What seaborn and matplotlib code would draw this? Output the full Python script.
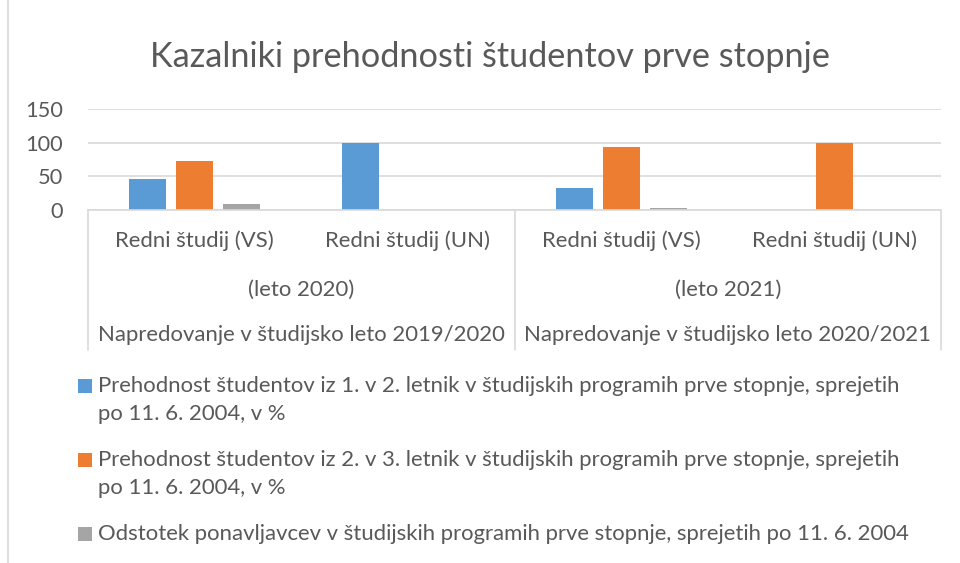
import pandas as pd
import matplotlib
matplotlib.use("Agg")
import matplotlib.pyplot as plt
import seaborn as sns
from matplotlib.patches import Rectangle
from matplotlib.lines import Line2D
from matplotlib.transforms import blended_transform_factory

# podatki
studij = ["Redni študij (VS)", "Redni študij (UN)", "Redni študij (VS)", "Redni študij (UN)"]
leto = ["(leto 2020)", "(leto 2021)"]
napredovanje = ["Napredovanje v študijsko leto 2019/2020",
                "Napredovanje v študijsko leto 2020/2021"]
serije = [
    "Prehodnost študentov iz 1. v 2. letnik v študijskih programih prve stopnje, sprejetih\npo 11. 6. 2004, v %",
    "Prehodnost študentov iz 2. v 3. letnik v študijskih programih prve stopnje, sprejetih\npo 11. 6. 2004, v %",
    "Odstotek ponavljavcev v študijskih programih prve stopnje, sprejetih po 11. 6. 2004",
]
prehod_1_2 = [46, 100, 32, None]
prehod_2_3 = [73, None, 93, 100]
ponavljavci = [9, None, 3, None]
barve = ["#5B9BD5", "#ED7D31", "#A5A5A5"]

kategorije = [f"{s} {leto[i // 2]}" for i, s in enumerate(studij)]
vrstice = []
for serija, vrednosti in zip(serije, [prehod_1_2, prehod_2_3, ponavljavci]):
    for kat, v in zip(kategorije, vrednosti):
        vrstice.append({"kategorija": kat, "serija": serija, "vrednost": v})
df = pd.DataFrame(vrstice).dropna()

sns.set_style("white")
plt.rcParams["font.family"] = ["Lato", "DejaVu Sans"]
siva = "#595959"
crta = "#D9D9D9"
W, H = 960, 563
fs = 15.9


def px(x, y):
    return x / W, 1 - y / H


fig = plt.figure(figsize=(9.6, 5.63), dpi=100)
ax = fig.add_axes([88 / W, 1 - 210 / H, (941 - 88) / W, (210 - 109) / H])

sns.barplot(data=df, x="kategorija", y="vrednost", hue="serija",
            order=kategorije, hue_order=serije, palette=barve,
            width=0.66, gap=0.21, saturation=1, linewidth=0,
            legend=False, ax=ax)

ax.set_xlim(-0.5, 3.5)
ax.set_ylim(0, 150)
ax.set_yticks([0, 50, 100, 150])
ax.set_xticks([])
ax.set_xlabel("")
ax.set_ylabel("")
ax.yaxis.grid(True, color=crta, lw=1.2)
ax.set_axisbelow(True)
for s in ["top", "right", "left"]:
    ax.spines[s].set_visible(False)
ax.spines["bottom"].set_color(crta)
ax.spines["bottom"].set_linewidth(1.2)
ax.tick_params(axis="y", length=0, pad=18, labelsize=15.7, labelcolor=siva)

# okvir grafikona
fig.add_artist(Rectangle(px(8, 600), 1.2, 1 - 10 / H + 0.1, transform=fig.transFigure,
                         fill=False, edgecolor=crta, lw=1.2))

fig.text(*px(490, 57), "Kazalniki prehodnosti študentov prve stopnje",
         ha="center", va="center", fontsize=24.7, color=siva)

# večnivojske oznake osi x
trans = blended_transform_factory(ax.transData, fig.transFigure)
for i, s in enumerate(studij):
    fig.text(i, 1 - 241 / H, s, transform=trans, ha="center", va="center",
             fontsize=fs, color=siva)
for j in range(2):
    fig.text(2 * j + 0.5, 1 - 290 / H, leto[j], transform=trans, ha="center",
             va="center", fontsize=fs, color=siva)
    fig.text(2 * j + 0.5, 1 - 335 / H, napredovanje[j], transform=trans,
             ha="center", va="center", fontsize=fs, color=siva)
for x in [-0.5, 1.5, 3.5]:
    fig.add_artist(Line2D([x, x], [1 - 210 / H, 1 - 350 / H], transform=trans,
                          color=crta, lw=1.2))

# legenda
for k, (serija, barva) in enumerate(zip(serije, barve)):
    y0 = [386, 460, 534][k]
    fig.add_artist(Rectangle(px(78, y0 + 7), 14 / W, 14 / H,
                             transform=fig.transFigure, color=barva, lw=0))
    for n, vrstica in enumerate(serija.split("\n")):
        fig.text(*px(98, y0 + 28 * n), vrstica, ha="left", va="center",
                 fontsize=fs, color=siva)

fig.savefig("out.png", dpi=100)
